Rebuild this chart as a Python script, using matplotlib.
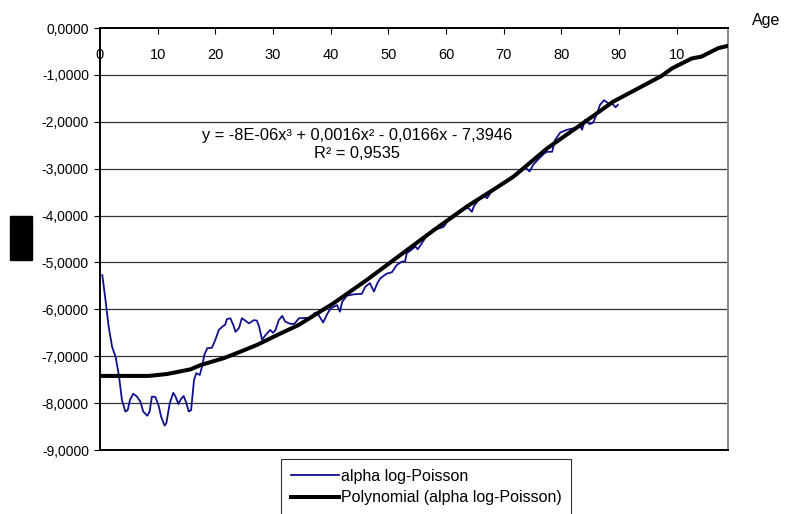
import numpy as np
import matplotlib
matplotlib.use("Agg")
import matplotlib.pyplot as plt
from matplotlib.patches import Rectangle
from matplotlib.ticker import FixedLocator, FuncFormatter

plt.rcParams["font.family"] = ["Liberation Sans", "DejaVu Sans"]
plt.rcParams["font.size"] = 10

# alpha log-Poisson by age
age = [0.4, 0.95, 1.5, 2.1, 2.7, 3.3, 3.8, 4.4, 4.8, 5.2, 5.75, 6.4, 7.0, 7.5,
       8.2, 8.6, 9.0, 9.6, 10.2, 10.6, 11.2, 11.5, 12.1, 12.7, 13.1, 13.6, 14.0,
       14.5, 14.9, 15.4, 15.8, 16.3, 16.7, 17.3, 17.7, 18.1, 18.6, 19.4, 20.0,
       20.6, 21.2, 21.7, 22.0, 22.6, 23.1, 23.5, 24.1, 24.6, 25.2, 25.8, 26.7,
       27.2, 27.6, 28.1, 28.7, 29.5, 30.0, 30.4, 31.0, 31.6, 32.1, 33.0, 33.7,
       34.5, 36.5, 37.3, 37.9, 38.7, 39.4, 40.0, 41.1, 41.6, 42.0, 42.8, 44.0,
       45.4, 46.0, 46.8, 47.5, 48.1, 48.6, 49.7, 50.6, 51.5, 52.4, 52.9, 53.2,
       53.8, 54.7, 55.1, 55.8, 56.4, 57.0, 57.9, 58.9, 59.6, 60.2, 61.3, 62.2,
       63.2, 63.9, 64.5, 64.8, 65.6, 66.5, 67.1, 67.5, 68.0, 69.0, 70.0, 71.0,
       72.0, 73.0, 73.7, 74.5, 75.1, 76.0, 77.0, 77.5, 78.4, 78.9, 79.8, 81.0,
       82.1, 83.3, 83.6, 84.1, 84.9, 85.5, 86.2, 86.7, 87.4, 88.2, 88.8, 89.4,
       89.8]
alpha = [-5.27, -5.80, -6.37, -6.80, -7.01, -7.43, -7.93, -8.18, -8.15, -7.93,
         -7.80, -7.86, -7.97, -8.18, -8.27, -8.18, -7.86, -7.87, -8.07, -8.29,
         -8.48, -8.43, -8.00, -7.78, -7.86, -8.02, -7.92, -7.85, -7.97, -8.18,
         -8.15, -7.51, -7.36, -7.40, -7.22, -6.97, -6.83, -6.82, -6.65, -6.44,
         -6.37, -6.33, -6.21, -6.19, -6.33, -6.48, -6.40, -6.19, -6.24, -6.30,
         -6.23, -6.24, -6.37, -6.65, -6.55, -6.44, -6.50, -6.45, -6.23, -6.14,
         -6.26, -6.31, -6.31, -6.19, -6.18, -6.07, -6.12, -6.28, -6.10, -5.98,
         -5.91, -6.05, -5.84, -5.71, -5.68, -5.67, -5.52, -5.44, -5.62, -5.44,
         -5.34, -5.24, -5.21, -5.05, -4.98, -4.98, -4.80, -4.75, -4.66, -4.72,
         -4.59, -4.48, -4.38, -4.29, -4.27, -4.24, -4.13, -4.04, -3.95, -3.84,
         -3.84, -3.92, -3.81, -3.67, -3.56, -3.63, -3.56, -3.45, -3.40, -3.32,
         -3.24, -3.14, -3.03, -2.97, -3.06, -2.92, -2.80, -2.68, -2.64, -2.64,
         -2.39, -2.23, -2.17, -2.14, -2.10, -2.17, -1.96, -2.05, -2.02, -1.82,
         -1.64, -1.54, -1.61, -1.61, -1.69, -1.64]

# polynomial trendline as drawn
trend_age = [0, 8.4, 11.6, 15.7, 17.4, 21.5, 24.4, 27.2, 30.7, 34.5, 40.5, 46.3,
             52.1, 57.9, 63.7, 68.2, 71.7, 77.5, 83.3, 89.0, 93.9, 97.4, 99.2,
             102.6, 104.3, 107.2, 108.9]
trend = [-7.42, -7.42, -7.38, -7.28, -7.19, -7.04, -6.90, -6.76, -6.55, -6.33,
         -5.87, -5.37, -4.84, -4.31, -3.80, -3.45, -3.17, -2.57, -2.07, -1.57,
         -1.25, -1.02, -0.86, -0.65, -0.61, -0.43, -0.38]

xticks = [0, 10, 20, 30, 40, 50, 60, 70, 80, 90, 100]
xtick_labels = ["0", "10", "20", "30", "40", "50", "60", "70", "80", "90", "10"]
yticks = [0, -1, -2, -3, -4, -5, -6, -7, -8, -9]

fig = plt.figure(figsize=(7.87, 5.14), dpi=100)
ax = fig.add_axes([100 / 787, 1 - 450 / 514, 628 / 787, 422 / 514])

for y in yticks[1:-1]:
    ax.axhline(y, color="#333333", lw=0.9, zorder=1)

ax.plot(age, alpha, color="#10108f", lw=1.3, zorder=3, label="alpha log-Poisson")
ax.plot(trend_age, trend, color="black", lw=2.9, zorder=4,
        label="Polynomial (alpha log-Poisson)")

ax.set_xlim(0, 108.9)
ax.set_ylim(-9, 0)

ax.xaxis.set_major_locator(FixedLocator(xticks))
ax.set_xticklabels(xtick_labels)
ax.tick_params(axis="x", top=True, bottom=False, labeltop=True, labelbottom=False,
               direction="in", length=4, width=0.8, pad=-24.5, labelsize=10.5)
ax.yaxis.set_major_locator(FixedLocator(yticks))
ax.yaxis.set_major_formatter(FuncFormatter(lambda v, p: f"{v:.4f}".replace(".", ",")))
ax.tick_params(axis="y", direction="out", length=4, width=0.8, pad=4, labelsize=10)

for side in ("left", "top", "bottom"):
    ax.spines[side].set_color("black")
    ax.spines[side].set_linewidth(1.4)
ax.spines["right"].set_color("#888888")
ax.spines["right"].set_linewidth(1.4)

ax.text(0.409, 0.723, "y = -8E-06x³ + 0,0016x² - 0,0166x - 7,3946\nR² = 0,9535",
        transform=ax.transAxes, ha="center", va="center", fontsize=11.8,
        linespacing=1.25)

fig.text(752 / 787, 1 - 20 / 514, "Age", ha="left", va="center", fontsize=11.5)

# box standing in for the vertical axis title
fig.patches.append(Rectangle((10 / 787, 1 - 260 / 514), 22 / 787, 44 / 514,
                             transform=fig.transFigure, color="black"))

leg = fig.legend(loc="upper left", bbox_to_anchor=(281 / 787, 1 - 459 / 514),
                 frameon=True, fancybox=False, edgecolor="black", fontsize=11.5,
                 handlelength=3.0, handletextpad=0.12, borderpad=0.62,
                 labelspacing=0.4, borderaxespad=0)
leg.get_frame().set_linewidth(0.8)

fig.savefig("out.png", dpi=100)
